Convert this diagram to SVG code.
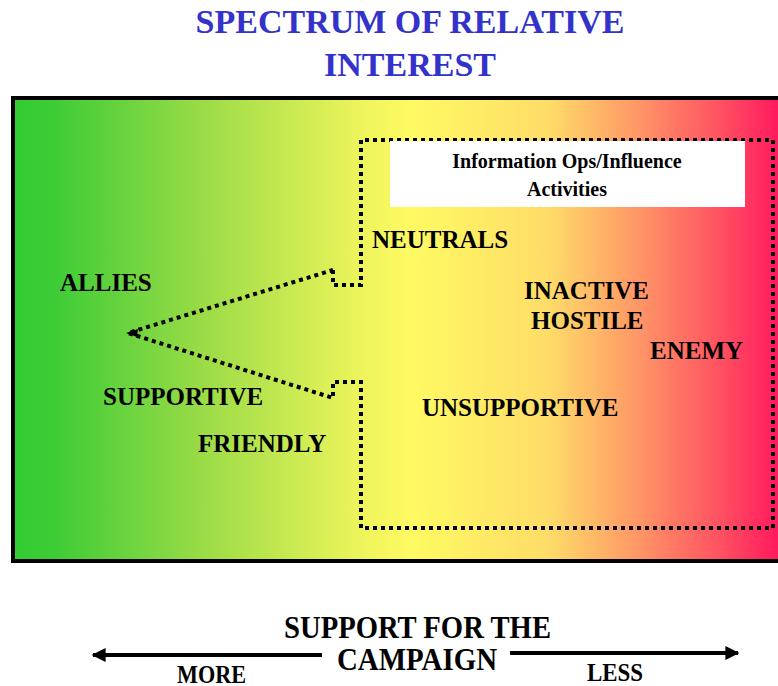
<svg xmlns="http://www.w3.org/2000/svg" width="778" height="686" viewBox="0 0 778 686">
<defs>
<linearGradient id="spec" gradientUnits="userSpaceOnUse" x1="15" y1="0" x2="778" y2="0">
<stop offset="0" stop-color="#33cc33"/>
<stop offset="0.05" stop-color="#3dcc36"/>
<stop offset="0.25" stop-color="#9cdc47"/>
<stop offset="0.45" stop-color="#ecf45b"/>
<stop offset="0.52" stop-color="#fffa63"/>
<stop offset="0.70" stop-color="#fedc68"/>
<stop offset="0.82" stop-color="#ff9466"/>
<stop offset="0.92" stop-color="#ff5462"/>
<stop offset="1" stop-color="#ff1a5e"/>
</linearGradient>
<marker id="ah" viewBox="0 0 10 10" refX="9" refY="5" markerWidth="3.5" markerHeight="3.5" orient="auto-start-reverse">
<path d="M0,0 L10,5 L0,10 z" fill="#000"/>
</marker>
</defs>
<style>
.t{font-family:"Liberation Serif","Times New Roman",serif;font-weight:bold;fill:#000}
.lbl{font-size:25px}
.title{font-size:34px;fill:#3333cc}
.dot{fill:none;stroke:#000;stroke-width:4;stroke-dasharray:4 4}
.ax{stroke:#000;stroke-width:4;fill:none}
</style>
<g id="title">
<text class="t title" x="410" y="33" text-anchor="middle">SPECTRUM OF RELATIVE</text>
<text class="t title" x="410" y="76" text-anchor="middle">INTEREST</text>
</g>
<g id="spectrum">
<rect x="13" y="98" width="772" height="463" fill="url(#spec)" stroke="#000" stroke-width="4"/>
</g>
<g id="connectors">
<path class="dot" d="M333,270 L333,285 L361,285 L361,140 L773,140 L773,528 L361,528 L361,382 L333,382 L333,398 L128,333 L333,270"/>
<path d="M126,333 L138,329 L137,337 z" fill="#000"/>
</g>
<g id="info">
<rect x="390" y="141" width="355" height="66" fill="#fff"/>
<text class="t" x="567" y="168" font-size="20" text-anchor="middle">Information Ops/Influence</text>
<text class="t" x="567" y="196" font-size="20" text-anchor="middle">Activities</text>
</g>
<g id="allies"><text class="t lbl" x="60" y="291">ALLIES</text></g>
<g id="neutrals"><text class="t lbl" x="372" y="248">NEUTRALS</text></g>
<g id="inactive"><text class="t lbl" x="524" y="299">INACTIVE</text></g>
<g id="hostile"><text class="t lbl" x="531" y="329">HOSTILE</text></g>
<g id="enemy"><text class="t lbl" x="650" y="359">ENEMY</text></g>
<g id="supportive"><text class="t lbl" x="103" y="405">SUPPORTIVE</text></g>
<g id="friendly"><text class="t lbl" x="198" y="452">FRIENDLY</text></g>
<g id="unsupportive"><text class="t lbl" x="422" y="416">UNSUPPORTIVE</text></g>
<g id="axis">
<line class="ax" x1="322" y1="655" x2="93" y2="655" marker-end="url(#ah)"/>
<line class="ax" x1="510" y1="653" x2="738" y2="653" marker-end="url(#ah)"/>
<text class="t" x="284" y="638" font-size="32" textLength="267" lengthAdjust="spacingAndGlyphs">SUPPORT FOR THE</text>
<text class="t" x="337" y="670" font-size="32" textLength="160" lengthAdjust="spacingAndGlyphs">CAMPAIGN</text>
<text class="t" x="177" y="683" font-size="25" textLength="69" lengthAdjust="spacingAndGlyphs">MORE</text>
<text class="t" x="587" y="681" font-size="25" textLength="56" lengthAdjust="spacingAndGlyphs">LESS</text>
</g>
</svg>
